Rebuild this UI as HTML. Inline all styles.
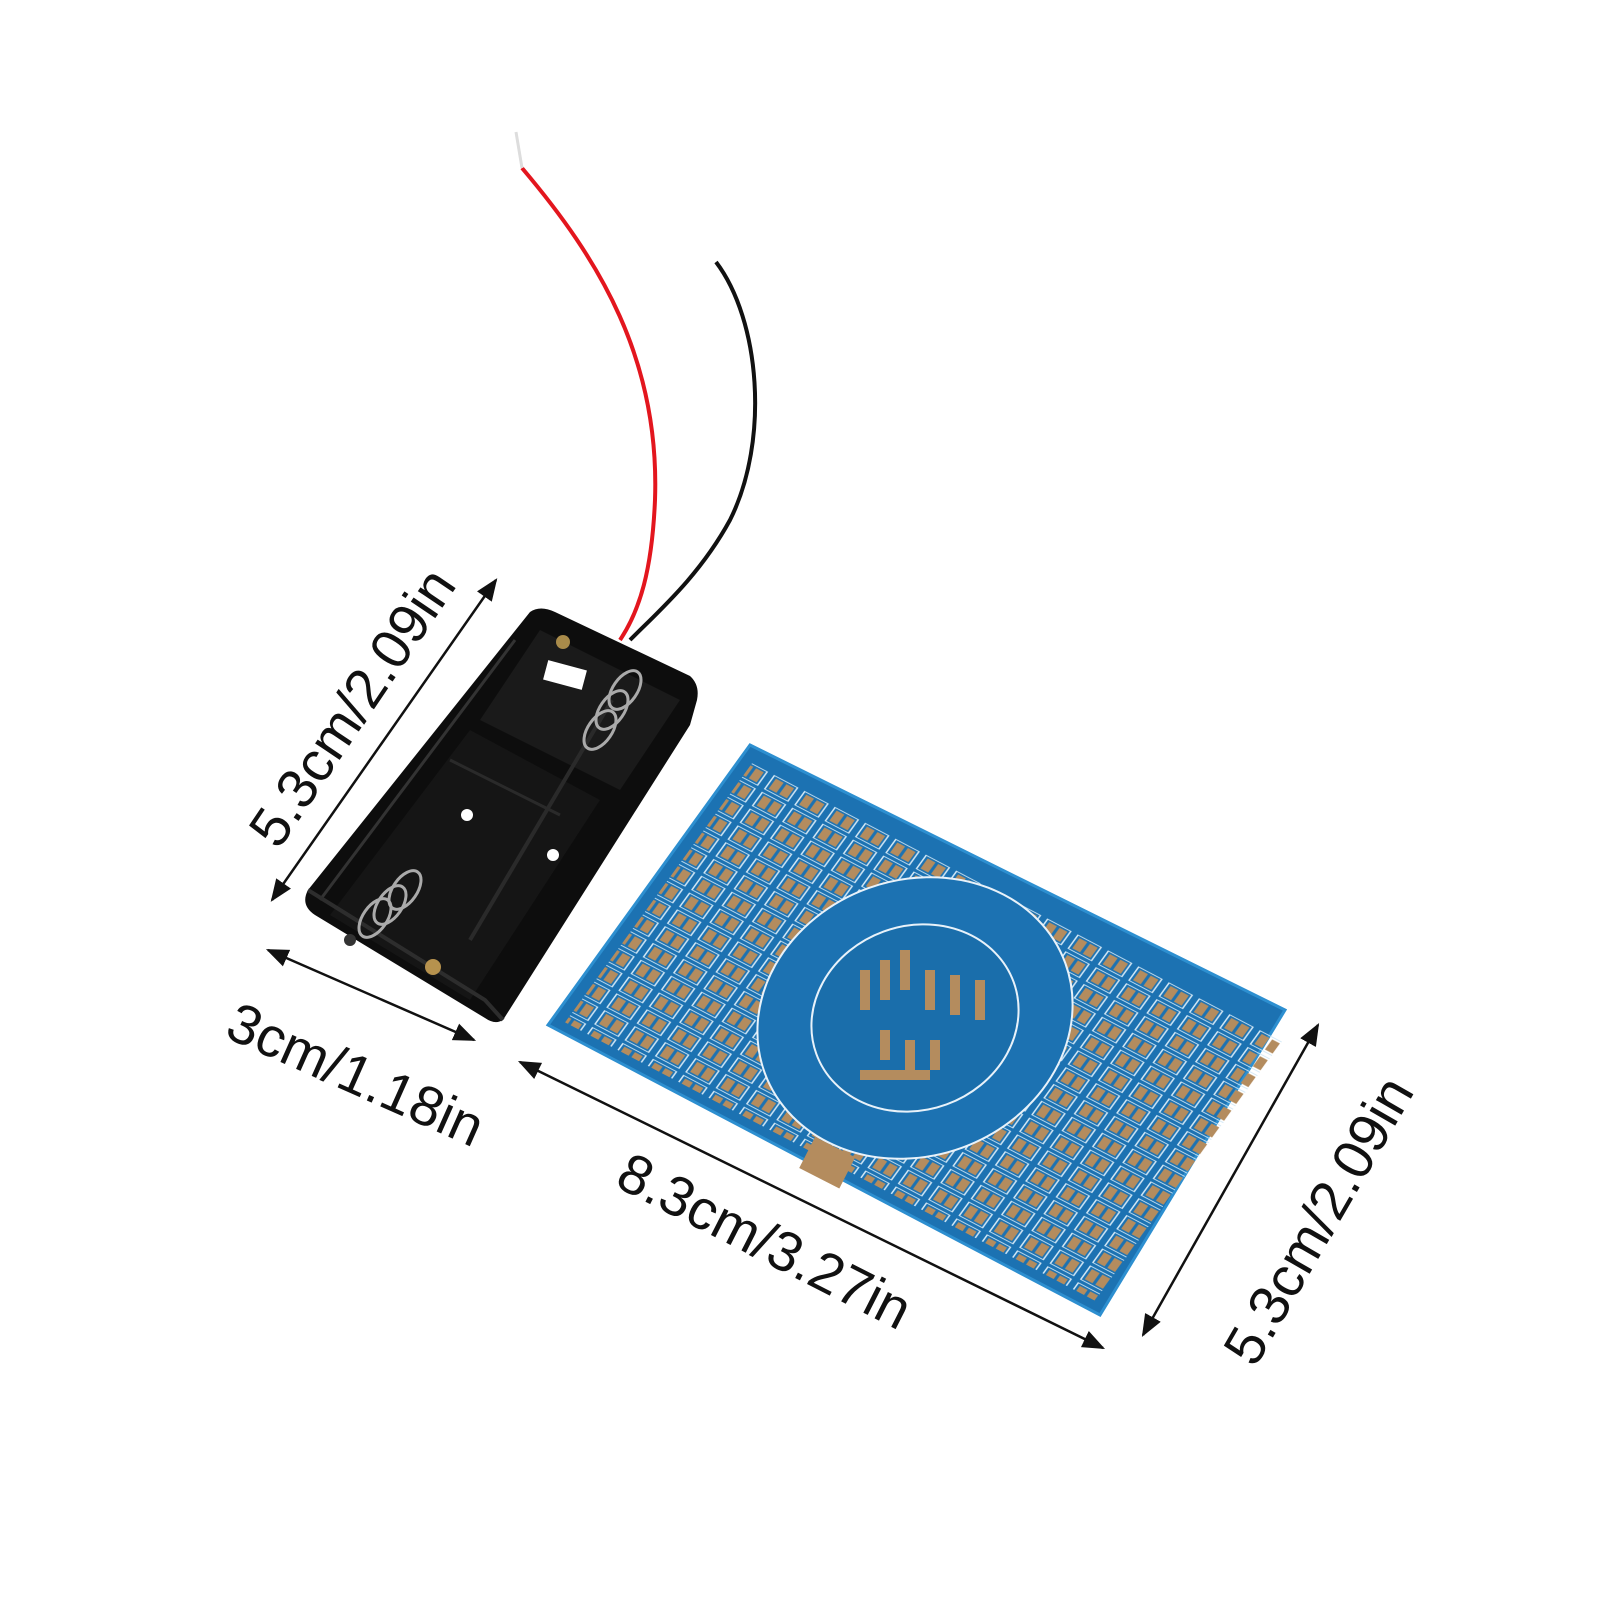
<!DOCTYPE html>
<html><head><meta charset="utf-8"><style>
html,body{margin:0;padding:0;background:#fff;}
svg{display:block}
text{font-family:"Liberation Sans",sans-serif;fill:#111}
</style></head><body>
<svg width="1600" height="1600" viewBox="0 0 1600 1600" xmlns="http://www.w3.org/2000/svg">
<defs>
<marker id="ah" viewBox="0 0 10 10" refX="9" refY="5" markerWidth="9" markerHeight="9" orient="auto-start-reverse">
<path d="M0,1 L10,5 L0,9 Z" fill="#111"/></marker>
<pattern id="pads" patternUnits="userSpaceOnUse" width="5.5" height="6">
<rect x="0.6" y="0.6" width="4.2" height="4.8" fill="none" stroke="#cfe6f5" stroke-width="0.25"/>
<rect x="1.1" y="1.2" width="1.4" height="3.6" fill="#b48c5e"/>
<rect x="3.0" y="1.2" width="1.4" height="3.6" fill="#b48c5e"/>
</pattern>
</defs>
<rect width="1600" height="1600" fill="#fff"/>

<path d="M522,168 C600,260 660,360 655,500 C652,570 640,610 620,640" fill="none" stroke="#e3161e" stroke-width="4"/>
<path d="M516,132 L522,168" stroke="#ddd" stroke-width="3"/>
<path d="M716,262 C760,320 770,440 730,520 C700,575 660,610 630,640" fill="none" stroke="#111" stroke-width="4"/>

<path d="M530,612 Q540,605 555,612 L690,676 Q700,685 697,700 L690,725 L503,1020 Q495,1025 485,1018 L315,915 Q300,905 308,890 Z" fill="#0d0d0d"/>
<path d="M540,630 L680,700 L620,790 L480,720 Z" fill="#1a1a1a"/>
<path d="M470,730 L600,800 L470,1000 L330,915 Z" fill="#151515"/>
<path d="M450,760 L560,815" stroke="#2a2a2a" stroke-width="3"/>
<path d="M515,640 L320,900" stroke="#333" stroke-width="3"/>
<path d="M612,700 L470,940" stroke="#2a2a2a" stroke-width="4"/>
<path d="M308,890 L485,1000 L503,1020" fill="none" stroke="#2d2d2d" stroke-width="4"/>
<rect x="545" y="665" width="40" height="20" fill="#fff" transform="rotate(15 565 675)"/>
<circle cx="467" cy="815" r="6" fill="#fff"/>
<circle cx="553" cy="855" r="6" fill="#fff"/>
<circle cx="563" cy="642" r="7" fill="#a98b4a"/>
<circle cx="433" cy="967" r="8" fill="#b6924e"/>
<circle cx="350" cy="940" r="6" fill="#333"/>
<g fill="none" stroke="#aaa" stroke-width="3">
<ellipse cx="625" cy="690" rx="22" ry="12" transform="rotate(-55 625 690)"/>
<ellipse cx="612" cy="710" rx="22" ry="12" transform="rotate(-55 612 710)"/>
<ellipse cx="600" cy="730" rx="22" ry="12" transform="rotate(-55 600 730)"/>
<ellipse cx="405" cy="890" rx="22" ry="12" transform="rotate(-55 405 890)"/>
<ellipse cx="390" cy="905" rx="22" ry="12" transform="rotate(-55 390 905)"/>
<ellipse cx="375" cy="918" rx="22" ry="12" transform="rotate(-55 375 918)"/>
</g>

<path d="M750,745 L1285,1010 L1100,1315 L548,1025 Z" fill="#1c72b2" stroke="#2d8fd0" stroke-width="3"/>
<g transform="matrix(5.52,2.90,2.02,-2.80,548,1025)">
<rect x="2" y="3" width="96" height="93" fill="url(#pads)"/>
</g>
<ellipse cx="915" cy="1018" rx="160" ry="138" fill="#1c72b2" stroke="#e8f2fa" stroke-width="2" transform="rotate(-20 915 1018)"/>
<ellipse cx="915" cy="1018" rx="105" ry="92" fill="#1a6eab" stroke="#e8f2fa" stroke-width="2" transform="rotate(-20 915 1018)"/>
<g fill="#b48c5e">
<rect x="860" y="970" width="10" height="40"/><rect x="880" y="960" width="10" height="40"/>
<rect x="900" y="950" width="10" height="40"/><rect x="925" y="970" width="10" height="40"/>
<rect x="950" y="975" width="10" height="40"/><rect x="975" y="980" width="10" height="40"/>
<rect x="880" y="1030" width="10" height="30"/><rect x="905" y="1040" width="10" height="30"/>
<rect x="930" y="1040" width="10" height="30"/><rect x="860" y="1070" width="70" height="10"/>
</g>
<rect x="805" y="1145" width="45" height="35" fill="#b48c5e" transform="rotate(27 827 1162)"/>

<line x1="496" y1="580" x2="272" y2="900" stroke="#111" stroke-width="2.5" marker-start="url(#ah)" marker-end="url(#ah)"/>
<line x1="268" y1="950" x2="474" y2="1040" stroke="#111" stroke-width="2.5" marker-start="url(#ah)" marker-end="url(#ah)"/>
<line x1="520" y1="1062" x2="1103" y2="1348" stroke="#111" stroke-width="2.5" marker-start="url(#ah)" marker-end="url(#ah)"/>
<line x1="1318" y1="1025" x2="1143" y2="1335" stroke="#111" stroke-width="2.5" marker-start="url(#ah)" marker-end="url(#ah)"/>

<text x="368" y="718" font-size="56" text-anchor="middle" transform="rotate(-56 368 718)">5.3cm/2.09in</text>
<text x="348" y="1092" font-size="56" text-anchor="middle" transform="rotate(24 348 1092)">3cm/1.18in</text>
<text x="756" y="1258" font-size="56" text-anchor="middle" transform="rotate(27 756 1258)">8.3cm/3.27in</text>
<text x="1335" y="1230" font-size="56" text-anchor="middle" transform="rotate(-60 1335 1230)">5.3cm/2.09in</text>
</svg>
</body></html>
